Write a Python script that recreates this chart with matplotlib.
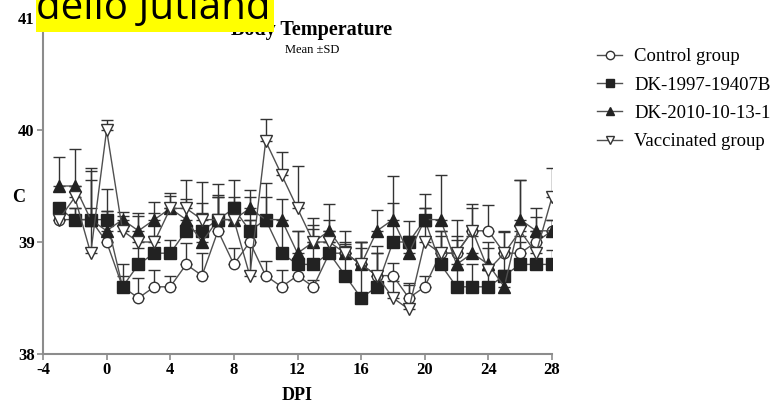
import matplotlib
matplotlib.use("Agg")
import matplotlib.pyplot as plt
from matplotlib.patches import Rectangle
import numpy as np

days = list(range(-3, 29))

control = [39.2, 39.2, 39.2, 39.0, 38.6, 38.5, 38.6, 38.6, 38.8, 38.7, 39.1, 38.8, 39.0, 38.7, 38.6, 38.7,
           38.6, 38.9, 38.9, 38.8, 38.7, 38.7, 38.5, 38.6, 38.9, 38.9, 39.1, 39.1, 38.9, 38.9, 39.0, 39.1]
control_sd = [0.05, 0.1, 0.1, 0.28, 0.1, 0.18, 0.15, 0.1, 0.19, 0.2, 0.3, 0.15, 0.2, 0.13, 0.15, 0.1,
              0.06, 0.1, 0.08, 0.15, 0.2, 0.11, 0.12, 0.1, 0.15, 0.12, 0.24, 0.23, 0.19, 0.15, 0.22, 0.1]

dk1997 = [39.3, 39.2, 39.2, 39.2, 38.6, 38.8, 38.9, 38.9, 39.1, 39.1, 39.2, 39.3, 39.1, 39.2, 38.9, 38.8,
          38.8, 38.9, 38.7, 38.5, 38.6, 39.0, 39.0, 39.2, 38.8, 38.6, 38.6, 38.6, 38.7, 38.8, 38.8, 38.8]
dk1997_sd = [0.05, 0.1, 0.43, 0.27, 0.2, 0.15, 0.15, 0.12, 0.25, 0.25, 0.32, 0.25, 0.3, 0.33, 0.25, 0.3,
             0.32, 0.2, 0.26, 0.5, 0.3, 0.35, 0.19, 0.23, 0.3, 0.15, 0.2, 0.15, 0.2, 0.2, 0.25, 0.13]

dk2010 = [39.5, 39.5, 39.2, 39.1, 39.2, 39.1, 39.2, 39.3, 39.2, 39.0, 39.2, 39.2, 39.3, 39.2, 39.2, 38.9,
          39.0, 39.1, 38.9, 38.8, 39.1, 39.2, 38.9, 39.2, 39.2, 38.8, 38.9, 38.8, 38.6, 39.2, 39.1, 39.1]
dk2010_sd = [0.26, 0.33, 0.35, 0.18, 0.07, 0.16, 0.16, 0.14, 0.18, 0.26, 0.22, 0.16, 0.16, 0.2, 0.18, 0.2,
             0.21, 0.24, 0.2, 0.2, 0.19, 0.39, 0.15, 0.1, 0.4, 0.4, 0.15, 0.2, 0.15, 0.35, 0.2, 0.1]

vaccinated = [39.2, 39.4, 38.9, 40.0, 39.1, 39.0, 39.0, 39.3, 39.3, 39.2, 39.2, 39.2, 38.7, 39.9, 39.6, 39.3,
              39.0, 39.0, 38.9, 38.8, 38.7, 38.5, 38.4, 39.0, 38.9, 38.9, 39.1, 38.75, 38.9, 39.1, 38.9, 39.4]
vaccinated_sd = [0.1, 0.1, 0.76, 0.09, 0.13, 0.23, 0.26, 0.11, 0.25, 0.34, 0.2, 0.2, 0.5, 0.2, 0.2, 0.38,
                 0.15, 0.2, 0.1, 0.2, 0.26, 0.15, 0.23, 0.3, 0.2, 0.15, 0.2, 0.2, 0.2, 0.45, 0.2, 0.26]

labels = ["Control group", "DK-1997-19407B", "DK-2010-10-13-1", "Vaccinated group"]
xticks = [-4, 0, 4, 8, 12, 16, 20, 24, 28]
yticks = [38, 39, 40, 41]

serif = ["Liberation Serif", "DejaVu Serif"]

fig = plt.figure(figsize=(7.74, 4.04), dpi=100)
ax = fig.add_axes([43 / 774, 50 / 404, 509 / 774, 336 / 404])

series = [
    (control, control_sd, dict(marker="o", mfc="white", mec="#333333", ms=7.5)),
    (dk1997, dk1997_sd, dict(marker="s", mfc="#222222", mec="#222222", ms=8)),
    (dk2010, dk2010_sd, dict(marker="^", mfc="#222222", mec="#222222", ms=8.5)),
    (vaccinated, vaccinated_sd, dict(marker="v", mfc="white", mec="#333333", ms=8.5)),
]
x = np.array(days)
for (vals, sd, st), lab in zip(series, labels):
    vals = np.array(vals)
    sd = np.array(sd)
    ax.errorbar(x, vals, yerr=[np.zeros_like(sd), sd], fmt="none", ecolor="#333333",
                elinewidth=1.0, capsize=4.5, capthick=1.0, zorder=2)
    ax.plot(x, vals, color="#505050", lw=1.0, label=lab, zorder=3, mew=1.0, **st)

ax.set_xlim(-4, 28)
ax.set_ylim(38, 41)
ax.set_xticks(xticks)
ax.set_yticks(yticks)
ax.set_xticklabels([str(t) for t in xticks], fontfamily=serif, fontweight="bold", fontsize=12)
ax.set_yticklabels([str(t) for t in yticks], fontfamily=serif, fontweight="bold", fontsize=12)
for s in ["top", "right"]:
    ax.spines[s].set_visible(False)
for s in ["left", "bottom"]:
    ax.spines[s].set_color("#8c8c8c")
    ax.spines[s].set_linewidth(1.5)
ax.tick_params(direction="out", length=4, width=1.2, color="#8c8c8c", pad=2)

ax.set_xlabel("DPI", fontfamily=serif, fontweight="bold", fontsize=13, labelpad=6)
ax.set_ylabel("C", fontfamily=serif, fontweight="bold", fontsize=13, rotation=0)
ax.yaxis.label.set_va("center")
ax.yaxis.set_label_coords(-0.048, (354 - 198) / 336)

fig.text(312 / 774, 1 - 30 / 404, "Body Temperature", ha="center", va="center",
         fontfamily=serif, fontweight="bold", fontsize=14.5, zorder=1)
fig.text(312 / 774, 1 - 50 / 404, "Mean ±SD", ha="center", va="center",
         fontfamily=serif, fontsize=9)

leg = ax.legend(loc="upper left", bbox_to_anchor=(597 / 774, 1 - 48 / 404),
                bbox_transform=fig.transFigure, frameon=False,
                prop=dict(family=serif, size=13.5), handlelength=1.35, labelspacing=0.6,
                handletextpad=0.64, borderpad=0, borderaxespad=0)
for h in leg.legend_handles:
    h.set_markersize(6)

fig.patches.append(Rectangle((36 / 774, 1 - 32 / 404), (274 - 36) / 774, 32 / 404,
                             transform=fig.transFigure, fc="#ffff00", ec="none", zorder=5))
fig.text(36 / 774, 1 - 19 / 404, "dello Jutland", ha="left", va="baseline",
         fontfamily=["Open Sans", "DejaVu Sans"], fontsize=29, color="black", zorder=10)

fig.savefig("out.png", dpi=100)
